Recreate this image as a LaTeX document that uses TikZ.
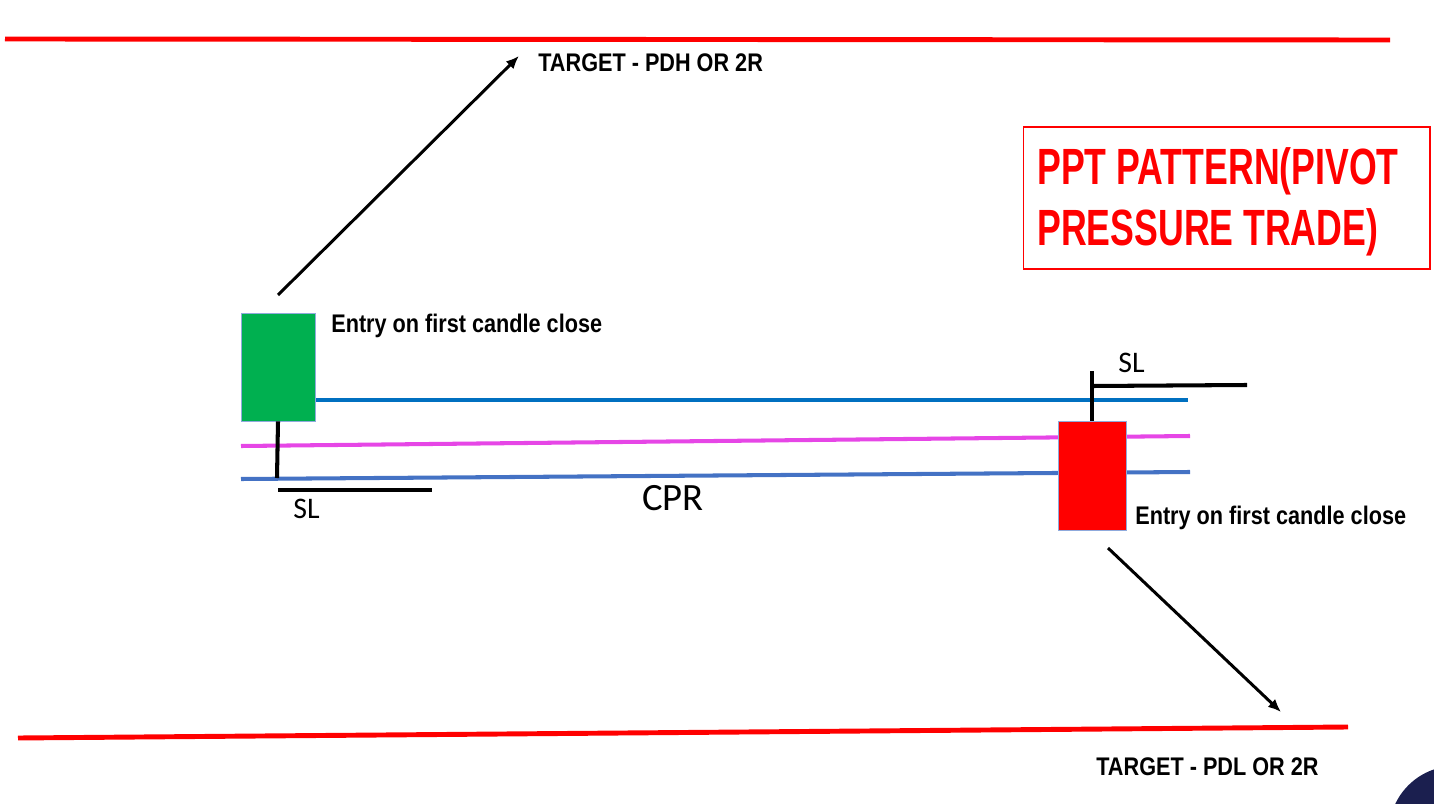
\documentclass[tikz,border=0pt]{standalone}
\usepackage{xcolor}
\usepackage{fontspec}
\setmainfont{Liberation Sans}
\newfontfamily\labelfont[FakeStretch=0.85]{Liberation Sans}
\newfontfamily\titlefont[FakeStretch=0.7]{Liberation Sans}
\newfontfamily\slfont{Carlito}
\usepackage{tikz}
\usetikzlibrary{positioning, calc, arrows.meta}
\definecolor{buygreen}{HTML}{00B050}
\definecolor{sellred}{HTML}{FF0000}
\definecolor{tcblue}{HTML}{0070C0}
\definecolor{pivotpink}{RGB}{230,70,230}
\definecolor{bcblue}{HTML}{4472C4}
\definecolor{edgeblue}{HTML}{8FAADC}
\definecolor{logonavy}{HTML}{1B1F4F}
\newcommand{\mycolora}{buygreen}
\newcommand{\mycolorb}{sellred}

\begin{document}
\begin{tikzpicture}[x=0.02cm, y=-0.02cm]

	\tikzstyle{candle}=[rectangle, draw=edgeblue, line width=0.5pt, inner sep=0pt]
	\tikzstyle{wick}=[line width=2.3pt, black]
	\tikzstyle{level}=[line width=2.3pt]
	\tikzstyle{move}=[line width=1.7pt, -{Latex[length=2.6mm, width=2.2mm]}]
	\tikzstyle{tag}=[inner sep=0pt, anchor=base west, font=\labelfont\bfseries\fontsize{14.5}{16}\selectfont]
	\tikzstyle{sl}=[inner sep=0pt, anchor=base west, font=\slfont\fontsize{17}{19}\selectfont]

	\useasboundingbox (0,0) rectangle (1434,804);

	%% previous day high / low
	\draw [level, line width=2.8pt, sellred] (5,39) -- (1390,40);
	\draw [level, line width=2.8pt, sellred] (18,738) -- (1348,727);

	%% CPR
	\draw [level, tcblue] (241,400) -- (1188,400);
	\draw [level, pivotpink] (241,446) -- (1190,436);
	\draw [level, bcblue] (241,479) -- (1190,472);
	\node (cpr) at (673,510) [inner sep=0pt, anchor=base, font=\slfont\fontsize{22}{24}\selectfont] {CPR};

	%% buy side
	\coordinate (greenlow) at (277,478);
	\node (greencandle) at (278,367) [candle, fill=\mycolora, minimum width=1.48cm, minimum height=2.16cm] {};
	\draw [wick] (greencandle.south) -- (greenlow);
	\draw [wick] (278,490) -- (432,490);
	\node (slbuy) at (293,518) [sl] {SL};
	\node (entrybuy) at (331,333) [tag] {Entry on first candle close};

	\coordinate (buystart) at (278,295);
	\node (pdh) at (538,72) [tag] {TARGET - PDH OR 2R};
	\coordinate (buyend) at (519,56);
	\draw [move] (buystart) -- (buyend);

	%% sell side
	\coordinate (redhigh) at (1092,371);
	\node (redcandle) at (1092,475.5) [candle, fill=\mycolorb, minimum width=1.36cm, minimum height=2.18cm] {};
	\draw [wick] (redhigh) -- (redcandle.north);
	\draw [wick] (1092,386) -- (1247,385);
	\node (slsell) at (1118,373) [sl] {SL};
	\node (entrysell) at (1135,524) [tag] {Entry on first candle close};

	\coordinate (sellstart) at (1108,548);
	\coordinate (sellend) at (1281,712);
	\draw [move] (sellstart) -- (sellend);
	\node (pdl) at (1096,775) [tag] {TARGET - PDL OR 2R};

	%% title
	\node (titlebox) at (1226.5,198) [rectangle, draw=sellred, line width=0.6pt, minimum width=8.14cm, minimum height=2.84cm] {};
	\node (titleone) at (1037,185) [tag, text=sellred, font=\titlefont\bfseries\fontsize{29}{32}\selectfont] {PPT PATTERN(PIVOT};
	\node (titletwo) at (1037,246) [tag, text=sellred, font=\titlefont\bfseries\fontsize{29}{32}\selectfont] {PRESSURE TRADE)};

	%% corner badge
	\begin{scope}
		\clip (0,0) rectangle (1434,804);
		\fill [logonavy] (1455,832) circle [radius=1.32cm];
	\end{scope}
\end{tikzpicture}
\end{document}
